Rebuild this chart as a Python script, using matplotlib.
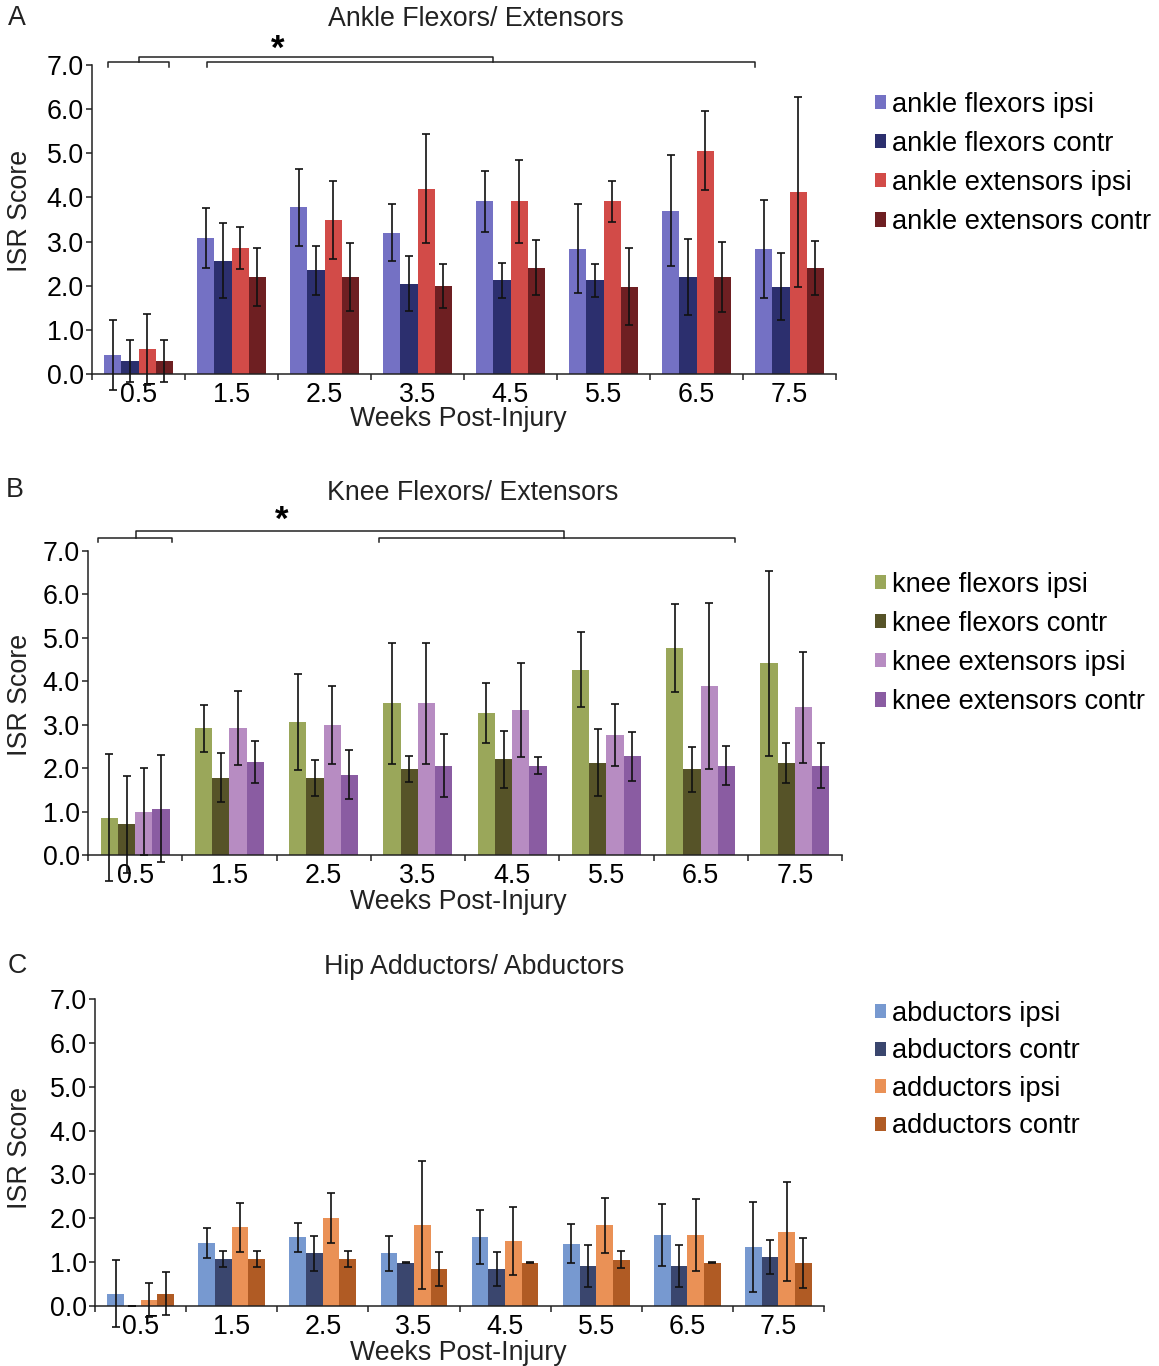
import numpy as np
import matplotlib
matplotlib.use('Agg')
import matplotlib.pyplot as plt

plt.rcParams['font.family'] = ['Liberation Sans', 'DejaVu Sans']

weeks = [0.5, 1.5, 2.5, 3.5, 4.5, 5.5, 6.5, 7.5]
week_labels = ['0.5', '1.5', '2.5', '3.5', '4.5', '5.5', '6.5', '7.5']

# panel A - ankle
ankle_names = ['ankle flexors ipsi', 'ankle flexors contr', 'ankle extensors ipsi', 'ankle extensors contr']
ankle_flex_ipsi = [0.43, 3.07, 3.78, 3.20, 3.91, 2.84, 3.70, 2.84]
ankle_flex_ipsi_err = [0.80, 0.68, 0.87, 0.65, 0.69, 1.00, 1.26, 1.11]
ankle_flex_contr = [0.29, 2.57, 2.35, 2.05, 2.12, 2.12, 2.20, 1.98]
ankle_flex_contr_err = [0.48, 0.85, 0.56, 0.62, 0.39, 0.38, 0.86, 0.75]
ankle_ext_ipsi = [0.56, 2.85, 3.49, 4.20, 3.91, 3.91, 5.06, 4.12]
ankle_ext_ipsi_err = [0.80, 0.48, 0.88, 1.23, 0.94, 0.46, 0.90, 2.16]
ankle_ext_contr = [0.29, 2.20, 2.20, 1.99, 2.41, 1.98, 2.20, 2.41]
ankle_ext_contr_err = [0.48, 0.65, 0.77, 0.50, 0.63, 0.87, 0.80, 0.61]

# panel B - knee
knee_names = ['knee flexors ipsi', 'knee flexors contr', 'knee extensors ipsi', 'knee extensors contr']
knee_flex_ipsi = [0.86, 2.92, 3.06, 3.49, 3.27, 4.27, 4.76, 4.41]
knee_flex_ipsi_err = [1.46, 0.54, 1.11, 1.39, 0.70, 0.87, 1.01, 2.12]
knee_flex_contr = [0.71, 1.78, 1.78, 1.98, 2.20, 2.12, 1.97, 2.12]
knee_flex_contr_err = [1.12, 0.57, 0.41, 0.30, 0.65, 0.77, 0.51, 0.47]
knee_ext_ipsi = [1.00, 2.92, 3.00, 3.49, 3.34, 2.76, 3.90, 3.40]
knee_ext_ipsi_err = [1.00, 0.85, 0.90, 1.39, 1.08, 0.71, 1.91, 1.28]
knee_ext_contr = [1.07, 2.14, 1.85, 2.06, 2.06, 2.27, 2.06, 2.06]
knee_ext_contr_err = [1.24, 0.48, 0.57, 0.73, 0.19, 0.57, 0.45, 0.52]

# panel C - hip
hip_names = ['abductors ipsi', 'abductors contr', 'adductors ipsi', 'adductors contr']
abd_ipsi = [0.28, 1.43, 1.57, 1.20, 1.57, 1.42, 1.62, 1.34]
abd_ipsi_err = [0.77, 0.34, 0.33, 0.40, 0.61, 0.45, 0.70, 1.03]
abd_contr = [0.0, 1.07, 1.20, 0.99, 0.84, 0.91, 0.91, 1.12]
abd_contr_err = [0.0, 0.19, 0.40, 0.01, 0.39, 0.47, 0.47, 0.39]
add_ipsi = [0.14, 1.79, 2.00, 1.84, 1.48, 1.84, 1.62, 1.69]
add_ipsi_err = [0.39, 0.55, 0.57, 1.46, 0.77, 0.63, 0.82, 1.13]
add_contr = [0.28, 1.07, 1.07, 0.84, 0.99, 1.06, 0.99, 0.99]
add_contr_err = [0.49, 0.19, 0.19, 0.38, 0.01, 0.19, 0.01, 0.57]

W, H = 1159, 1366
FS = 19.3


def fx(px):
    return px / W


def fy(py):
    return 1 - py / H


def panel(rect_px, title, letter, title_xy, letter_xy, xlabel_y, ylabel_xy,
          names, means, errs, colors, leg_xy, leg_space):
    l, t, r, b = rect_px
    ax = fig.add_axes([fx(l), fy(b), fx(r) - fx(l), fy(t) - fy(b)])
    bw = 0.183
    offs = [-1.5, -0.5, 0.5, 1.5]
    x = np.array(weeks)
    for i in range(4):
        ax.bar(x + offs[i] * bw, means[i], bw, color=colors[i], label=names[i],
               linewidth=0, zorder=2)
        eb = ax.errorbar(x + offs[i] * bw, means[i], yerr=errs[i], fmt='none',
                         ecolor='#111111', elinewidth=1.2, capsize=3.2,
                         capthick=1.2, zorder=3)
        for art in list(eb.lines[1]) + list(eb.lines[2]):
            art.set_clip_on(False)
    ax.set_xlim(0, 8)
    ax.set_ylim(0, 7)
    ax.set_yticks(range(8))
    ax.set_yticklabels(['%.1f' % v for v in range(8)], fontsize=FS)
    ax.set_xticks(range(9))
    ax.set_xticklabels([])
    ax.set_xticks(weeks, minor=True)
    ax.set_xticklabels(week_labels, minor=True, fontsize=FS)
    ax.tick_params(axis='x', which='minor', length=0, pad=5.5)
    ax.tick_params(axis='both', which='major', length=4.5, width=1.1,
                   direction='out', pad=1.5, color='#222222')
    for s in ['top', 'right']:
        ax.spines[s].set_visible(False)
    for s in ['left', 'bottom']:
        ax.spines[s].set_linewidth(1.1)
        ax.spines[s].set_color('#222222')
    fig.text(fx(title_xy[0]), fy(title_xy[1]), title, fontsize=FS,
             ha='center', va='center', color='#222222')
    fig.text(fx(letter_xy[0]), fy(letter_xy[1]), letter, fontsize=FS,
             ha='center', va='center', color='#222222')
    fig.text(fx(458), fy(xlabel_y), 'Weeks Post-Injury', fontsize=FS,
             ha='center', va='center', color='#222222')
    fig.text(fx(ylabel_xy[0]), fy(ylabel_xy[1]), 'ISR Score', fontsize=FS,
             ha='center', va='center', rotation=90, color='#222222')
    ax.legend(loc='upper left', bbox_to_anchor=(fx(leg_xy[0]), fy(leg_xy[1])),
              bbox_transform=fig.transFigure, frameon=False, fontsize=FS + 0.3,
              handlelength=0.42, handleheight=0.42, handletextpad=0.2,
              labelspacing=leg_space, borderaxespad=0, borderpad=0)
    return ax


def bracket(ax, x0, x1, y, drop):
    ax.plot([x0, x0, x1, x1], [y - drop, y, y, y - drop], color='#222222',
            lw=1.1, clip_on=False)


fig = plt.figure(figsize=(W / 100, H / 100), dpi=100)

axA = panel((92, 65, 836, 374), 'Ankle Flexors/ Extensors', 'A', (476, 19), (17, 18),
            419, (20, 211),
            ankle_names,
            [ankle_flex_ipsi, ankle_flex_contr, ankle_ext_ipsi, ankle_ext_contr],
            [ankle_flex_ipsi_err, ankle_flex_contr_err, ankle_ext_ipsi_err, ankle_ext_contr_err],
            ['#7471c4', '#2c2f6e', '#d24b48', '#6e1f22'], (875, 92), 0.48)
bracket(axA, 0.17, 0.83, 7.07, 0.11)
bracket(axA, 1.24, 7.13, 7.07, 0.11)
bracket(axA, 0.5, 4.31, 7.19, 0.12)
axA.text(2.0, 7.36, '*', fontsize=25, fontweight='bold', ha='center', va='center')

axB = panel((88, 551, 842, 855), 'Knee Flexors/ Extensors', 'B', (473, 493), (15, 490),
            902, (20, 695),
            knee_names,
            [knee_flex_ipsi, knee_flex_contr, knee_ext_ipsi, knee_ext_contr],
            [knee_flex_ipsi_err, knee_flex_contr_err, knee_ext_ipsi_err, knee_ext_contr_err],
            ['#9aa75a', '#565328', '#b78cc2', '#8a5ca2'], (875, 572), 0.48)
bracket(axB, 0.11, 0.89, 7.31, 0.10)
bracket(axB, 3.09, 6.86, 7.31, 0.10)
bracket(axB, 0.51, 5.05, 7.45, 0.14)
axB.text(2.06, 7.70, '*', fontsize=25, fontweight='bold', ha='center', va='center')

axC = panel((95, 999, 824, 1306), 'Hip Adductors/ Abductors', 'C', (474, 967), (17, 966),
            1353, (20, 1148),
            hip_names,
            [abd_ipsi, abd_contr, add_ipsi, add_contr],
            [abd_ipsi_err, abd_contr_err, add_ipsi_err, add_contr_err],
            ['#7799d0', '#3a466e', '#ea9156', '#b05b24'], (875, 1001), 0.42)

fig.savefig('out.png', dpi=100)
